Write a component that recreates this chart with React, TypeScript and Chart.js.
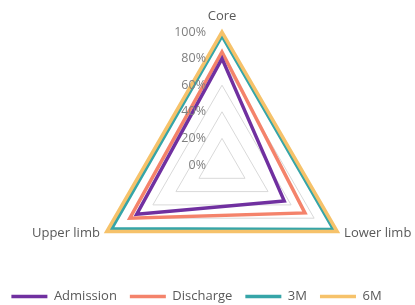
import React, { useEffect, useRef } from "react";
import { Chart, registerables } from "chart.js";

Chart.register(...registerables);

const categories = ["Core", "Lower limb", "Upper limb"];
const admission = [80, 54, 74];
const discharge = [85, 72, 80];
const threeM = [97, 97, 96];
const sixM = [100, 100, 100];
const seriesNames = ["Admission", "Discharge", "3M", "6M"];
const seriesColors = ["#7030A0", "#F4836B", "#36A5A8", "#F6C26A"];
const tickValues = [0, 20, 40, 60, 80, 100];

const FONT = "'Open Sans', sans-serif";

// radar placement inside the canvas (layout only)
const CENTER_X = 222;
const CENTER_Y = 165;
const RADIUS = 133;

const tickPlugin = {
  id: "leftTicks",
  afterDatasetsDraw(chart: any) {
    const scale = chart.scales.r;
    const ctx = chart.ctx;
    ctx.save();
    ctx.font = `12.5px ${FONT}`;
    ctx.fillStyle = "#7f7f7f";
    ctx.textAlign = "right";
    ctx.textBaseline = "middle";
    tickValues.forEach((v) => {
      const d = scale.getDistanceFromCenterForValue(v);
      ctx.fillText(`${v}%`, scale.xCenter - 16, scale.yCenter - d);
    });
    ctx.restore();
  },
};

export default function App() {
  const ref = useRef<HTMLCanvasElement>(null);
  useEffect(() => {
    const data = [admission, discharge, threeM, sixM];
    const chart = new Chart(ref.current!, {
      type: "radar",
      data: {
        labels: categories,
        datasets: data.map((d, i) => ({
          label: seriesNames[i],
          data: d,
          borderColor: seriesColors[i],
          backgroundColor: seriesColors[i],
          borderWidth: 3.5,
          fill: false,
          pointRadius: 0,
          borderJoinStyle: "miter" as const,
          order: i === 3 ? 0 : i + 1,
        })),
      },
      options: {
        responsive: false,
        animation: false,
        layout: { padding: { top: 0, bottom: -8, left: -22, right: 0 } },
        scales: {
          r: {
            min: 0,
            max: 100,
            ticks: { stepSize: 20, display: false },
            grid: { color: "#d9d9d9", lineWidth: 1 },
            angleLines: { display: false },
            pointLabels: {
              font: { family: FONT, size: 13 },
              color: "#595959",
              padding: 8,
            },
            afterSetDimensions: (scale: any) => {
              scale._savedBox = {
                left: scale.left,
                right: scale.right,
                top: scale.top,
                bottom: scale.bottom,
              };
              scale.left = -10000;
              scale.right = 10000;
              scale.top = -10000;
              scale.bottom = 10000;
              scale.xCenter = CENTER_X;
              scale.yCenter = CENTER_Y;
              scale.drawingArea = RADIUS;
            },
            afterFit: (scale: any) => {
              if (scale._savedBox) Object.assign(scale, scale._savedBox);
              const items = scale._pointLabelItems || [];
              items.forEach((it: any, i: number) => {
                if (i > 0) {
                  const h = it.bottom - it.top;
                  const dy = -h / 2 - 2;
                  it.y += dy;
                  it.top += dy;
                  it.bottom += dy;
                }
              });
            },
          },
        },
        plugins: {
          tooltip: { enabled: false },
          legend: {
            position: "bottom",
            labels: {
              usePointStyle: true,
              pointStyle: "line",
              pointStyleWidth: 36,
              font: { family: FONT, size: 13 },
              color: "#595959",
              padding: 13,
              sort: (a: any, b: any) => a.datasetIndex - b.datasetIndex,
            },
          },
        },
      },
      plugins: [tickPlugin],
    });
    return () => chart.destroy();
  }, []);
  return (
    <div style={{ position: "absolute", left: 0, top: 0, width: 415, height: 305 }}>
      <canvas ref={ref} width={415} height={305} />
    </div>
  );
}
